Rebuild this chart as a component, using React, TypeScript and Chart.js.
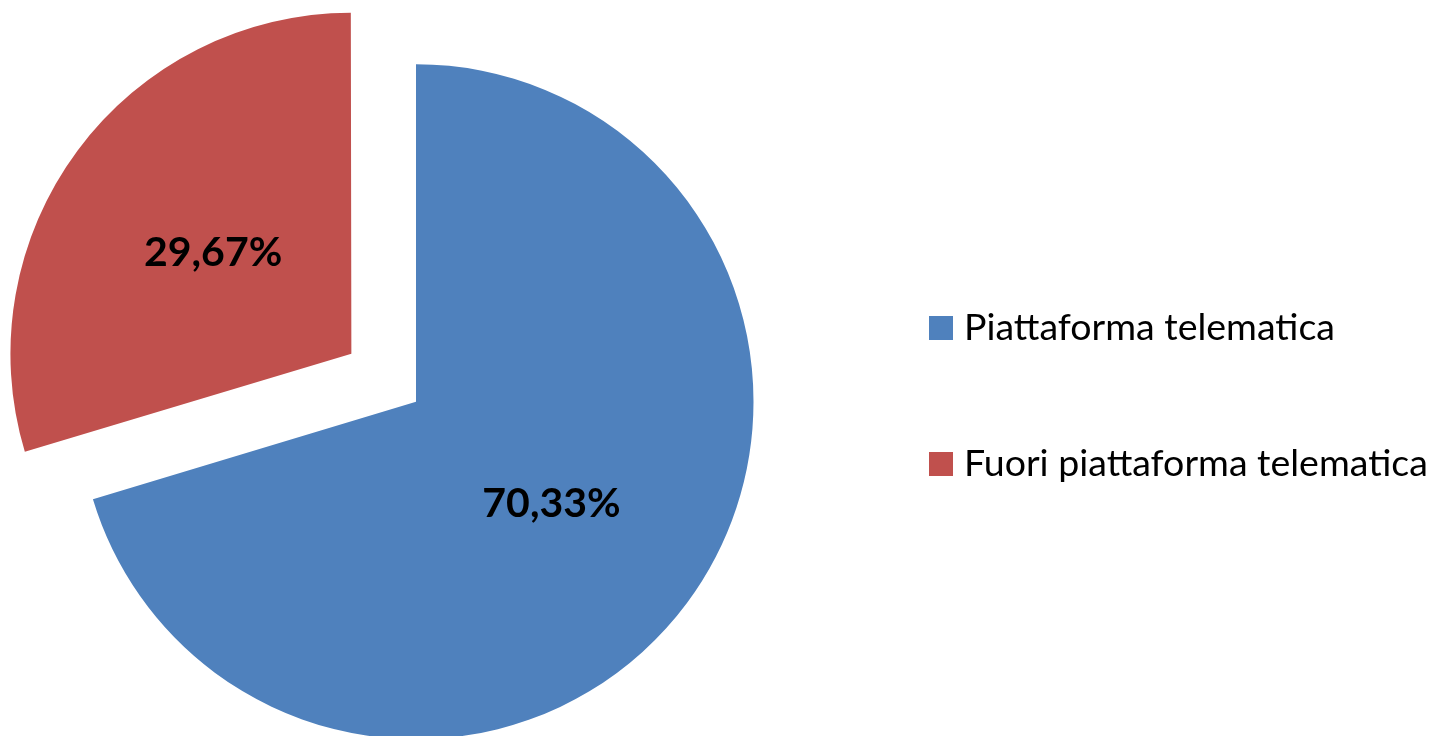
import React, { useEffect, useRef } from "react";
import { Chart, registerables } from "chart.js";

Chart.register(...registerables);

const categories: string[] = ["Piattaforma telematica", "Fuori piattaforma telematica"];
const values: number[] = [70.33, 29.67];
const colors: string[] = ["#4F81BD", "#C0504D"];

const fmt = (v: number) => v.toFixed(2).replace(".", ",") + "%";

// Chart.js translates an arc by offset/4 * (2 - sin(min(PI, circumference)))
const arcShift = (arc: any) => {
  const off = (arc.options.offset || 0) / 4;
  const circ = arc.endAngle - arc.startAngle;
  const fix = 1 - Math.sin(Math.min(Math.PI, circ || 0));
  return off + off * fix;
};

const labelsPlugin = {
  id: "sliceLabels",
  afterDatasetsDraw(chart: any) {
    const ctx = chart.ctx;
    const meta = chart.getDatasetMeta(0);
    ctx.save();
    ctx.font = "bold 41px Lato";
    ctx.fillStyle = "#000000";
    ctx.textAlign = "center";
    ctx.textBaseline = "alphabetic";
    meta.data.forEach((arc: any, i: number) => {
      const mid = (arc.startAngle + arc.endAngle) / 2;
      const r = arcShift(arc) + arc.outerRadius / 2;
      const x = arc.x + Math.cos(mid) * r;
      const y = arc.y + Math.sin(mid) * r;
      ctx.fillText(fmt(values[i]), x, y + 14.7);
    });
    ctx.restore();
  },
};

const legendPlugin = {
  id: "customLegend",
  afterDraw(chart: any) {
    const ctx = chart.ctx;
    ctx.save();
    ctx.font = "37.5px Lato";
    ctx.textAlign = "left";
    ctx.textBaseline = "alphabetic";
    const baselines = [340, 476];
    categories.forEach((c, i) => {
      const b = baselines[i];
      ctx.fillStyle = colors[i];
      ctx.fillRect(929, b - 24, 24, 24);
      ctx.fillStyle = "#000000";
      ctx.fillText(c, 964, b);
    });
    ctx.restore();
  },
};

export default function App() {
  const ref = useRef<HTMLCanvasElement | null>(null);
  useEffect(() => {
    document.body.style.margin = "0";
    if (!ref.current) return;
    const chart = new Chart(ref.current, {
      type: "pie",
      data: {
        labels: categories,
        datasets: [
          {
            data: values,
            backgroundColor: colors,
            borderWidth: 0,
            offset: [0, 322],
            hoverOffset: 0,
          },
        ],
      },
      options: {
        responsive: false,
        animation: false,
        radius: 337.5,
        layout: { padding: { left: 0, right: 610, top: 67.4, bottom: 0 } },
        plugins: {
          legend: { display: false },
          tooltip: { enabled: false },
        },
        events: [],
      } as any,
      plugins: [labelsPlugin, legendPlugin],
    });
    return () => chart.destroy();
  }, []);
  return (
    <div style={{ position: "fixed", left: 0, top: 0, width: 1442, height: 736, background: "#fff" }}>
      <canvas ref={ref} width={1442} height={736} />
    </div>
  );
}
